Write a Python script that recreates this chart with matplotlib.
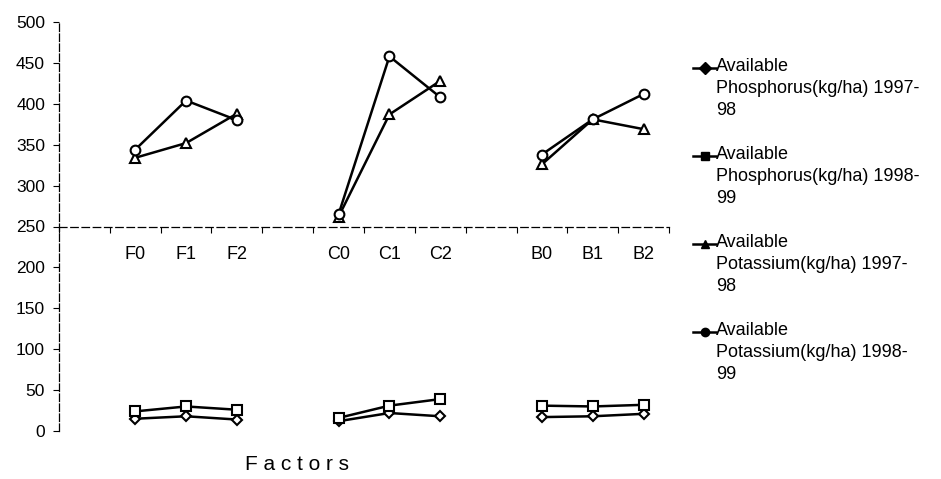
import numpy as np
import matplotlib
matplotlib.use("Agg")
import matplotlib.pyplot as plt
from matplotlib.lines import Line2D

plt.rcParams["font.family"] = ["Liberation Sans", "DejaVu Sans"]

categories = ["F0", "F1", "F2", "C0", "C1", "C2", "B0", "B1", "B2"]
phos_9798 = [15, 18, 14, 12, 22, 18, 17, 18, 21]
phos_9899 = [24, 30, 26, 16, 31, 39, 31, 30, 32]
pot_9798 = [334, 352, 388, 262, 387, 428, 326, 381, 369]
pot_9899 = [344, 404, 380, 265, 458, 408, 338, 381, 412]

labels = [
    "Available\nPhosphorus(kg/ha) 1997-\n98",
    "Available\nPhosphorus(kg/ha) 1998-\n99",
    "Available\nPotassium(kg/ha) 1997-\n98",
    "Available\nPotassium(kg/ha) 1998-\n99",
]
markers = ["D", "s", "^", "o"]
sizes = [5, 6.5, 7.5, 7]

# three groups of three, with one empty slot before each group
pos = np.array([1 + 4 * (i // 3) + i % 3 for i in range(len(categories))])

W, H = 941, 479
fig = plt.figure(figsize=(W / 100, H / 100), dpi=100)
left, right, top, bottom = 59, 669, 22, 431
ax = fig.add_axes([left / W, 1 - bottom / H, (right - left) / W, (bottom - top) / H])

series = [phos_9798, phos_9899, pot_9798, pot_9899]
for vals, m, ms in zip(series, markers, sizes):
    vals = np.array(vals, dtype=float)
    for g in range(3):
        sl = slice(3 * g, 3 * g + 3)
        ax.plot(pos[sl], vals[sl], color="black", lw=1.8, marker=m, ms=ms,
                mfc="white", mec="black", mew=1.5, zorder=3)

ax.set_xlim(-0.5, 11.5)
ax.set_ylim(0, 500)
ax.set_yticks(np.arange(0, 501, 50))
ax.tick_params(axis="y", labelsize=12.5, length=4, width=0.8, pad=6, direction="out")
ax.set_xticks(pos)
ax.set_xticklabels(categories)
ax.set_xticks(np.arange(-0.5, 12, 1), minor=True)
ax.tick_params(axis="x", which="major", length=0, pad=14, labelsize=13)
ax.tick_params(axis="x", which="minor", length=4, width=0.8, direction="out")

for s in ["top", "right"]:
    ax.spines[s].set_visible(False)
ax.spines["bottom"].set_position(("data", 250))
ax.spines["bottom"].set_linestyle((0, (6, 3)))
ax.spines["bottom"].set_linewidth(0.9)
ax.spines["left"].set_linestyle((0, (6, 2)))
ax.spines["left"].set_linewidth(0.9)

fig.text(297 / W, 1 - 465 / H, "F a c t o r s", fontsize=15, ha="center", va="center")

# legend with the handle level with the first line of each label
for i, (lab, m) in enumerate(zip(labels, markers)):
    yc = 68 + 88 * i
    fig.add_artist(Line2D([693 / W, 716 / W], [1 - yc / H, 1 - yc / H], color="black",
                          lw=1.8, transform=fig.transFigure))
    fig.add_artist(Line2D([704.5 / W], [1 - yc / H], marker=m, ms=6, color="black",
                          transform=fig.transFigure))
    fig.text(716 / W, 1 - (yc - 10) / H, lab, fontsize=13, ha="left", va="top",
             linespacing=1.4)

fig.savefig("out.png", dpi=100)
